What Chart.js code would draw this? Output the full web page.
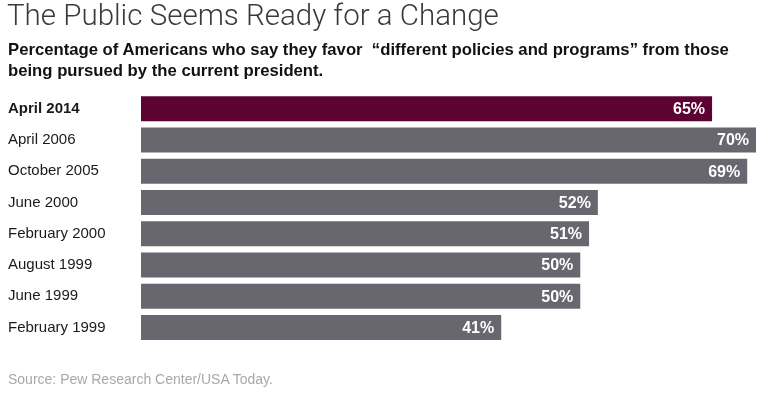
<!DOCTYPE html>
<html>
<head>
<meta charset="utf-8">
<script src="https://cdn.jsdelivr.net/npm/chart.js@4"></script>
<style>
  html, body { margin: 0; padding: 0; background: #fff; }
  #wrap { position: relative; width: 767px; height: 395px; overflow: hidden; }
  #title { position: absolute; left: 7px; top: -2px; font-family: Roboto, sans-serif; font-weight: 300; font-size: 29.5px; color: #3a3a3a; white-space: nowrap; }
  #subtitle { position: absolute; left: 8px; top: 39px; font-family: "Liberation Sans", Arial, sans-serif; font-weight: bold; font-size: 16.7px; line-height: 21px; color: #111; white-space: nowrap; }
  #source { position: absolute; left: 8px; top: 371px; font-family: "Liberation Sans", Arial, sans-serif; font-size: 14px; color: #a8a8a8; white-space: nowrap; }
  canvas { position: absolute; left: 0; top: 0; }
</style>
</head>
<body>
<div id="wrap">
  <canvas id="profileChart" width="767" height="395"></canvas>
  <div id="title">The Public Seems Ready for a Change</div>
  <div id="subtitle">Percentage of Americans who say they favor &nbsp;“different policies and programs” from those<br>being pursued by the current president.</div>
  <div id="source">Source: Pew Research Center/USA Today.</div>
</div>
<script>
const categories = ['April 2014', 'April 2006', 'October 2005', 'June 2000', 'February 2000', 'August 1999', 'June 1999', 'February 1999'];
const values = [65, 70, 69, 52, 51, 50, 50, 41];
const highlight = '#5c0333';
const barGray = '#68676f';

window.addEventListener('DOMContentLoaded', (event) => {
    load_graph()
})

// white % labels inside bar ends
const valueLabels = {
    id: 'valueLabels',
    afterDatasetsDraw(chart) {
        const ctx = chart.ctx;
        const meta = chart.getDatasetMeta(0);
        ctx.save();
        ctx.fillStyle = '#fff';
        ctx.font = 'bold 16px "Liberation Sans", Arial, sans-serif';
        ctx.textAlign = 'right';
        ctx.textBaseline = 'middle';
        meta.data.forEach((bar, i) => {
            ctx.fillText(values[i] + '%', bar.x - 7, bar.y + 1);
        });
        ctx.restore();
    }
};

function load_graph() {
    const data = {
        labels: categories,
        datasets: [{
            data: values,
            backgroundColor: values.map((v, i) => i === 0 ? highlight : barGray),
            borderWidth: 0,
            barPercentage: 0.8,
            categoryPercentage: 1.0
        }]
    };

    const config = {
        type: 'bar',
        data: data,
        options: {
            indexAxis: 'y',
            responsive: false,
            animation: false,
            layout: { padding: { left: 8, top: 93, bottom: 52, right: 11 } },
            plugins: { legend: { display: false }, tooltip: { enabled: false } },
            scales: {
                x: { display: false, min: 0, max: 70 },
                y: {
                    grid: { display: false },
                    border: { display: false },
                    afterFit: (scale) => { scale.width = 133; },
                    ticks: {
                        crossAlign: 'far',
                        padding: 0,
                        color: '#1a1a1a',
                        font: (c) => ({
                            family: '"Liberation Sans", Arial, sans-serif',
                            size: 15,
                            weight: c.index === 0 ? 'bold' : 'normal'
                        })
                    }
                }
            }
        },
        plugins: [valueLabels]
    };

    new Chart(document.getElementById('profileChart'), config);
}
</script>
</body>
</html>
